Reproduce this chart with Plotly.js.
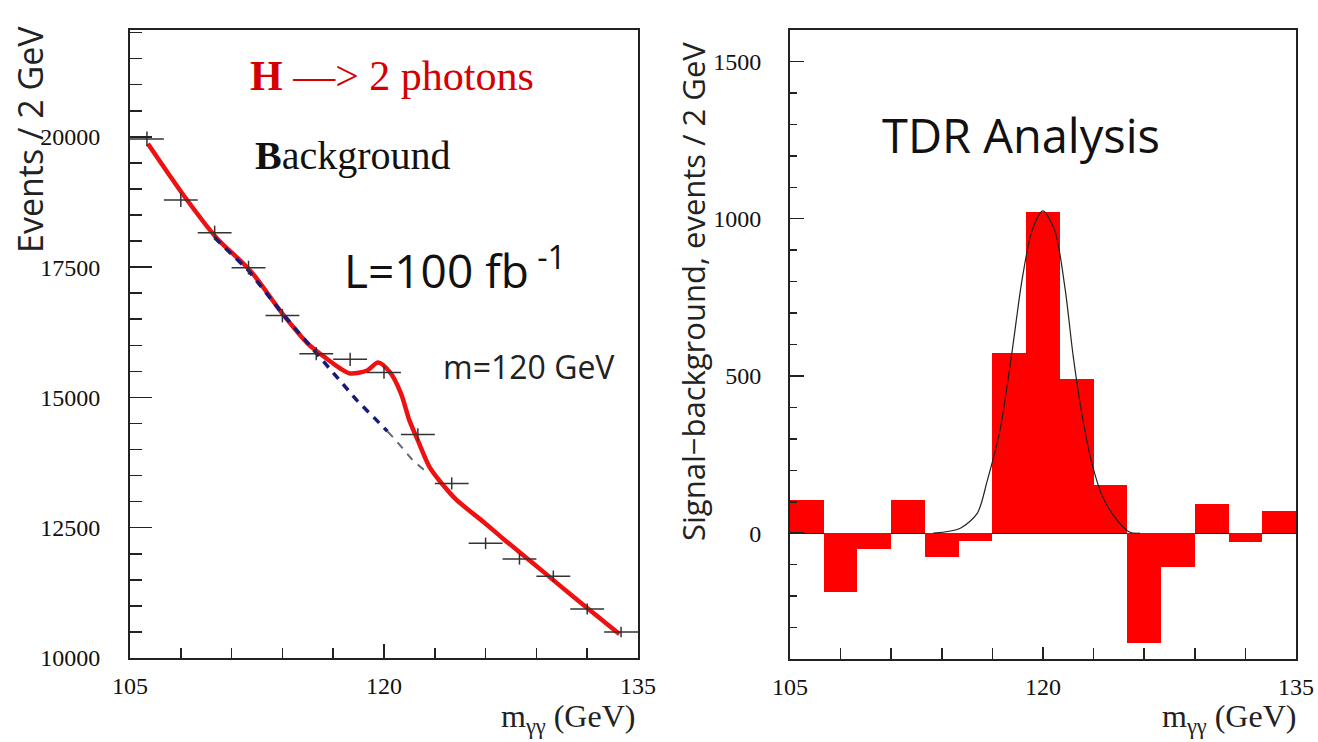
<!DOCTYPE html>
<html>
<head>
<meta charset="utf-8">
<script src="https://cdn.plot.ly/plotly-3.0.1.min.js"></script>
<style>html,body{margin:0;padding:0;background:#fff;}#chart{width:1318px;height:742px;}</style>
</head>
<body>
<div id="chart"></div>
<script>
// ---- Left panel: background spectrum (events / 2 GeV) ----
const binCenters = [106,108,110,112,114,116,118,120,122,124,126,128,130,132,134];
const eventCounts = [19960,18790,18160,17490,16570,15840,15730,15480,14290,13350,12200,11900,11570,10940,10500];
const eventErrors = [141,137,135,132,129,126,125,124,120,116,110,109,108,105,102];
const binHalfWidth = [1,1,1,1,1,1,1,1,1,1,1,1,1,1,1];

const fitMass = [106.06,108.1,110.1,112.1,114.0,115.5,116.6,117.4,118.0,119.0,119.65,120.36,121.0,121.5,122.0,122.7,123.5,124.3,125.9,127.0,128.8,130.0,132.0,133.9];
const fitEvents = [19866,18908,18065,17433,16609,16034,15747,15560,15460,15517,15670,15479,15077,14560,14176,13659,13314,13027,12605,12299,11820,11494,10958,10460];

const bkgMassA = [110.0,112.0,114.0,115.5,116.2,117.0,118.4,119.4,120.2];
const bkgEventsA = [18065,17433,16609,16034,15790,15460,14943,14617,14350];
const bkgMassB = [120.2,120.7,121.7,122.6];
const bkgEventsB = [14350,14176,13793,13544];

// ---- Right panel: signal - background ----
const diffValues = [106,-187,-49,106,-76,-26,572,1020,490,153,-350,-108,93,-28,72];
const gaussMass = [113.5,115.1,116.1,116.7,117.45,118.15,118.75,119.35,120.0,120.7,121.3,121.8,122.3,122.9,123.55,124.4,125.15,125.75];
const gaussValues = [0,16,63,168,327,571,803,962,1025,962,781,559,381,222,114,41,3,0];

const xTickVals = [105,120,135];
const xTickText = ['105','120','135'];
const leftYTickVals = [10000,12500,15000,17500,20000];
const leftYTickText = ['10000','12500','15000','17500','20000'];
const rightYTickVals = [0,500,1000,1500];
const rightYTickText = ['0','500','1000','1500'];

const W = 1318, H = 742;
const px = v => v / W;
const py = v => (H - v) / H;

const frameColor = '#222';
const tickFont = {family: 'Liberation Serif, serif', size: 24, color: '#111'};
const leftYRange = [10000, 22050];
const rightYRange = [-400, 1600];

const traces = [
  {x: fitMass, y: fitEvents, xaxis: 'x', yaxis: 'y', mode: 'lines', type: 'scatter',
   line: {color: '#ee1111', width: 4.5, shape: 'spline', smoothing: 0.8}, hoverinfo: 'skip'},
  {x: bkgMassA, y: bkgEventsA, xaxis: 'x', yaxis: 'y', mode: 'lines', type: 'scatter',
   line: {color: '#1a1a7a', width: 3.5, dash: '8px,7px'}, hoverinfo: 'skip'},
  {x: bkgMassB, y: bkgEventsB, xaxis: 'x', yaxis: 'y', mode: 'lines', type: 'scatter',
   line: {color: '#667', width: 2, dash: '8px,7px'}, hoverinfo: 'skip'},
  {x: binCenters, y: eventCounts, xaxis: 'x', yaxis: 'y3', mode: 'markers', type: 'scatter',
   marker: {size: 1, color: '#333'},
   error_x: {type: 'data', array: binHalfWidth, symmetric: true, color: '#333', thickness: 1.5, width: 0},
   error_y: {type: 'data', array: eventErrors, symmetric: true, color: '#333', thickness: 1.5, width: 0},
   hoverinfo: 'skip'},
  {x: binCenters, y: diffValues, xaxis: 'x2', yaxis: 'y2', type: 'bar', width: 2,
   marker: {color: '#ff0000', line: {width: 0}}, hoverinfo: 'skip'},
  {x: gaussMass, y: gaussValues, xaxis: 'x2', yaxis: 'y4', mode: 'lines', type: 'scatter',
   line: {color: '#222', width: 1.2, shape: 'spline', smoothing: 0.8}, hoverinfo: 'skip'}
];

const axisCommon = {
  showline: true, linecolor: frameColor, linewidth: 2, mirror: true,
  showgrid: false, zeroline: false, ticks: 'inside', tickcolor: frameColor, tickwidth: 1.5,
  tickfont: tickFont, fixedrange: true
};

// label axes laid over the framed ones (same range); transparent outside ticks push labels away
const labelAxis = {
  showline: false, showgrid: false, zeroline: false, ticks: 'outside', tickcolor: 'rgba(0,0,0,0)',
  tickfont: tickFont, fixedrange: true, side: 'left'
};

const layout = {
  width: W, height: H,
  margin: {l: 0, r: 0, t: 0, b: 0},
  paper_bgcolor: '#fff', plot_bgcolor: '#fff',
  showlegend: false, bargap: 0,
  xaxis: Object.assign({}, axisCommon, {
    domain: [px(130), px(638)], range: [105, 135], anchor: 'y',
    tickvals: xTickVals, ticktext: xTickText, ticklen: 14, ticklabelstandoff: 5,
    minor: {ticks: 'inside', dtick: 3, tick0: 105, ticklen: 10, tickcolor: frameColor, tickwidth: 1.5}
  }),
  yaxis: Object.assign({}, axisCommon, {
    domain: [py(658), py(30)], range: leftYRange, anchor: 'x',
    tickvals: leftYTickVals, showticklabels: false, ticklen: 22,
    minor: {ticks: 'inside', dtick: 500, tick0: 10000, ticklen: 12, tickcolor: frameColor, tickwidth: 1.5}
  }),
  yaxis3: Object.assign({}, labelAxis, {
    overlaying: 'y', anchor: 'x', range: leftYRange,
    tickvals: leftYTickVals, ticktext: leftYTickText, ticklen: 24
  }),
  xaxis2: Object.assign({}, axisCommon, {
    domain: [px(790), px(1296)], range: [105, 135], anchor: 'y2',
    tickvals: xTickVals, ticktext: xTickText, ticklen: 12, ticklabelstandoff: 5,
    minor: {ticks: 'inside', dtick: 3, tick0: 105, ticklen: 11, tickcolor: frameColor, tickwidth: 1.5}
  }),
  yaxis2: Object.assign({}, axisCommon, {
    domain: [py(659), py(30)], range: rightYRange, anchor: 'x2',
    tickvals: rightYTickVals, showticklabels: false, ticklen: 14,
    zeroline: true, zerolinecolor: '#111', zerolinewidth: 1,
    minor: {ticks: 'inside', dtick: 100, tick0: 0, ticklen: 7, tickcolor: frameColor, tickwidth: 1.5}
  }),
  yaxis4: Object.assign({}, labelAxis, {
    overlaying: 'y2', anchor: 'x2', range: rightYRange,
    tickvals: rightYTickVals, ticktext: rightYTickText, ticklen: 23
  }),
  annotations: [
    {xref: 'paper', yref: 'paper', x: px(248), y: py(76), xanchor: 'left', yanchor: 'middle', showarrow: false,
     text: '<b>H</b> —> 2 photons', font: {family: 'Liberation Serif, serif', size: 42, color: '#d40000'}},
    {xref: 'paper', yref: 'paper', x: px(253), y: py(155), xanchor: 'left', yanchor: 'middle', showarrow: false,
     text: '<b>B</b>ackground', font: {family: 'Liberation Serif, serif', size: 40, color: '#111'}},
    {xref: 'paper', yref: 'paper', x: px(342), y: py(268), xanchor: 'left', yanchor: 'middle', showarrow: false,
     text: 'L=100 fb<sup> -1</sup>', font: {family: 'Open Sans, sans-serif', size: 46, color: '#111'}},
    {xref: 'paper', yref: 'paper', x: px(441), y: py(366), xanchor: 'left', yanchor: 'middle', showarrow: false,
     text: 'm=120 GeV', font: {family: 'Open Sans, sans-serif', size: 32, color: '#222'}},
    {xref: 'paper', yref: 'paper', x: px(880), y: py(135), xanchor: 'left', yanchor: 'middle', showarrow: false,
     text: 'TDR Analysis', font: {family: 'Open Sans, sans-serif', size: 47, color: '#111'}},
    {xref: 'paper', yref: 'paper', x: px(30), y: py(140), xanchor: 'center', yanchor: 'middle', showarrow: false,
     textangle: -90, text: 'Events / 2 GeV', font: {family: 'Open Sans, sans-serif', size: 34, color: '#222'}},
    {xref: 'paper', yref: 'paper', x: px(693), y: py(292), xanchor: 'center', yanchor: 'middle', showarrow: false,
     textangle: -90, text: 'Signal−background, events / 2 GeV', font: {family: 'Open Sans, sans-serif', size: 31, color: '#222'}},
    {xref: 'paper', yref: 'paper', x: px(637), y: py(718), xanchor: 'right', yanchor: 'middle', showarrow: false,
     text: 'm<sub>γγ</sub> (GeV)', font: {family: 'Liberation Serif, serif', size: 32, color: '#222'}},
    {xref: 'paper', yref: 'paper', x: px(1298), y: py(718), xanchor: 'right', yanchor: 'middle', showarrow: false,
     text: 'm<sub>γγ</sub> (GeV)', font: {family: 'Liberation Serif, serif', size: 32, color: '#222'}}
  ]
};

Plotly.newPlot('chart', traces, layout, {staticPlot: true, displayModeBar: false});
</script>
</body>
</html>
